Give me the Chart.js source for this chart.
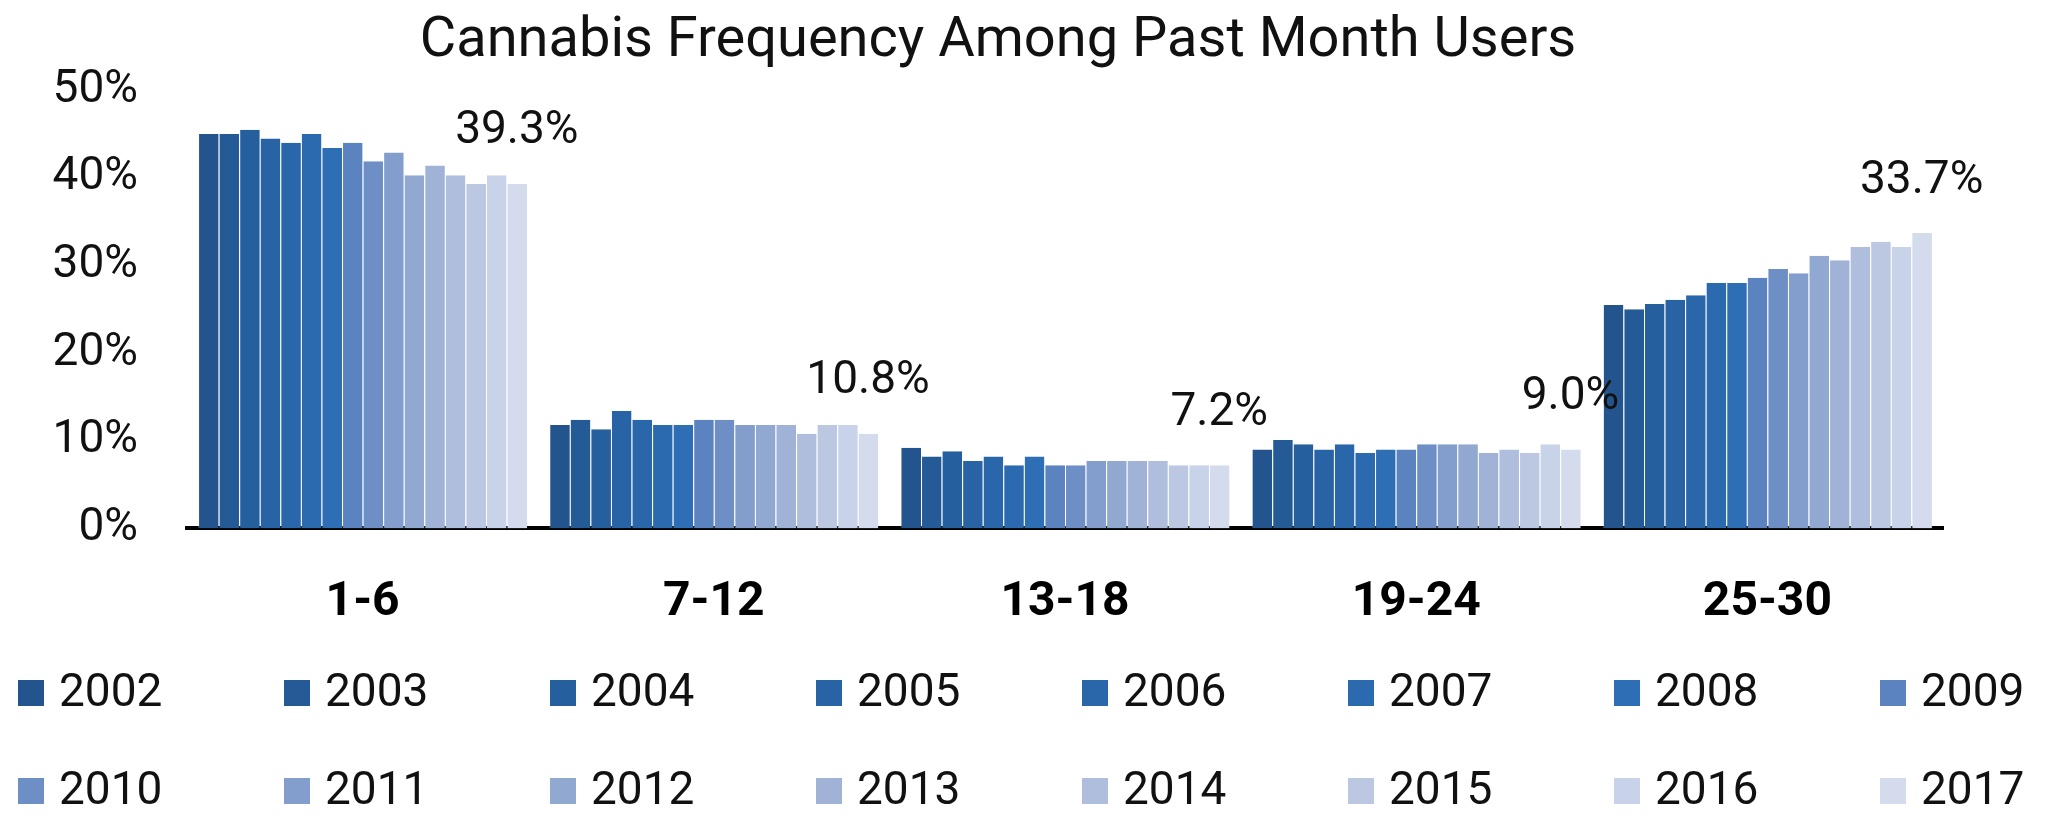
<!DOCTYPE html>
<html><head><meta charset="utf-8">
<script src="https://cdn.jsdelivr.net/npm/chart.js@4"></script>
<style>html,body{margin:0;padding:0;background:#fff;} #wrap{width:2046px;height:816px;position:relative}</style>
</head><body><div id="wrap"><canvas id="c"></canvas></div>
<script>
const categories = ['1-6', '7-12', '13-18', '19-24', '25-30'];
const years = ['2002','2003','2004','2005','2006','2007','2008','2009','2010','2011','2012','2013','2014','2015','2016','2017'];
const y2002 = [45.0, 11.8, 9.2, 9.0, 25.5];
const y2003 = [45.0, 12.4, 8.2, 10.1, 25.0];
const y2004 = [45.5, 11.3, 8.8, 9.6, 25.6];
const y2005 = [44.5, 13.4, 7.7, 9.0, 26.1];
const y2006 = [44.0, 12.4, 8.2, 9.6, 26.6];
const y2007 = [45.0, 11.8, 7.2, 8.6, 28.0];
const y2008 = [43.4, 11.8, 8.2, 9.0, 28.0];
const y2009 = [44.0, 12.4, 7.2, 9.0, 28.6];
const y2010 = [41.9, 12.4, 7.2, 9.6, 29.6];
const y2011 = [42.9, 11.8, 7.7, 9.6, 29.1];
const y2012 = [40.3, 11.8, 7.7, 9.6, 31.1];
const y2013 = [41.4, 11.8, 7.7, 8.6, 30.6];
const y2014 = [40.3, 10.8, 7.7, 9.0, 32.1];
const y2015 = [39.3, 11.8, 7.2, 8.6, 32.7];
const y2016 = [40.3, 11.8, 7.2, 9.6, 32.1];
const y2017 = [39.3, 10.8, 7.2, 9.0, 33.7];
const seriesValues = [y2002,y2003,y2004,y2005,y2006,y2007,y2008,y2009,y2010,y2011,y2012,y2013,y2014,y2015,y2016,y2017];
const colors = ['#24548D','#245A96','#265F9E','#2763A5','#2967AA','#2B6AAF','#2D6EB5','#5A83C0','#6E8FC6','#839ECC','#91A8D1','#A0B3D7','#AEBEDC','#BCC8E2','#C8D2E8','#D3DBEC'];
const yTicks = [0, 10, 20, 30, 40, 50];
const titleText = 'Cannabis Frequency Among Past Month Users';

const FONT = 'Roboto';

const datasets = years.map((y, i) => ({
  label: y,
  data: seriesValues[i],
  backgroundColor: colors[i],
  borderColor: 'rgba(255,255,255,0.22)',
  borderWidth: {left: 1, right: 0, top: 0, bottom: 0},
  borderSkipped: false,
  barPercentage: 1.0,
  categoryPercentage: 0.937
}));

const lastLabelPlugin = {
  id: 'lastLabels',
  afterDatasetsDraw(chart) {
    const ctx = chart.ctx;
    const idx = chart.data.datasets.length - 1;
    const meta = chart.getDatasetMeta(idx);
    ctx.save();
    ctx.font = `46px ${FONT}`;
    ctx.fillStyle = '#111';
    ctx.textAlign = 'center';
    ctx.textBaseline = 'middle';
    meta.data.forEach((bar, j) => {
      const v = chart.data.datasets[idx].data[j];
      ctx.fillText(v.toFixed(1) + '%', bar.x, bar.y - 52);
    });
    ctx.restore();
  }
};

const legendPlugin = {
  id: 'gridLegend',
  afterDraw(chart) {
    const ctx = chart.ctx;
    const ds = chart.data.datasets;
    const x0 = 18, pitch = 266, rowY = [693, 791], perRow = 8, box = 26, gap = 15;
    ctx.save();
    ctx.font = `46px ${FONT}`;
    ctx.textAlign = 'left';
    ctx.textBaseline = 'middle';
    ds.forEach((d, i) => {
      const r = Math.floor(i / perRow), c = i % perRow;
      const x = x0 + c * pitch, y = rowY[r];
      ctx.fillStyle = d.backgroundColor;
      ctx.fillRect(x, y - box / 2, box, box);
      ctx.fillStyle = '#111';
      ctx.fillText(d.label, x + box + gap, y + 1);
    });
    ctx.restore();
  }
};

new Chart(document.getElementById('c'), {
  type: 'bar',
  data: { labels: categories, datasets },
  options: {
    responsive: true,
    maintainAspectRatio: false,
    animation: false,
    devicePixelRatio: 1,
    layout: { padding: { left: 0, right: 50, top: 0, bottom: 138 } },
    plugins: {
      legend: { display: false },
      tooltip: { enabled: false },
      title: {
        display: true,
        text: titleText,
        color: '#111',
        font: { family: FONT, size: 56, weight: 'normal' },
        padding: { top: 8, bottom: 15 }
      }
    },
    scales: {
      x: {
        grid: { display: false, drawTicks: false },
        border: { display: true, color: '#000', width: 4 },
        ticks: { color: '#000', font: { family: FONT, size: 48, weight: 'bold' }, padding: 46 }
      },
      y: {
        min: 0, max: 50,
        afterFit(s) { s.width = 187; },
        afterBuildTicks(s) { s.ticks = yTicks.map(v => ({ value: v })); },
        grid: { display: false, drawTicks: false },
        border: { display: false },
        ticks: { color: '#111', font: { family: FONT, size: 46 }, padding: 49, callback: v => v + '%' }
      },
      yR: {
        position: 'right',
        display: true,
        min: 0, max: 50,
        afterFit(s) { s.width = 53; },
        grid: { display: false, drawTicks: false },
        border: { display: false },
        ticks: { display: false }
      }
    }
  },
  plugins: [lastLabelPlugin, legendPlugin]
});
</script>
</body></html>
